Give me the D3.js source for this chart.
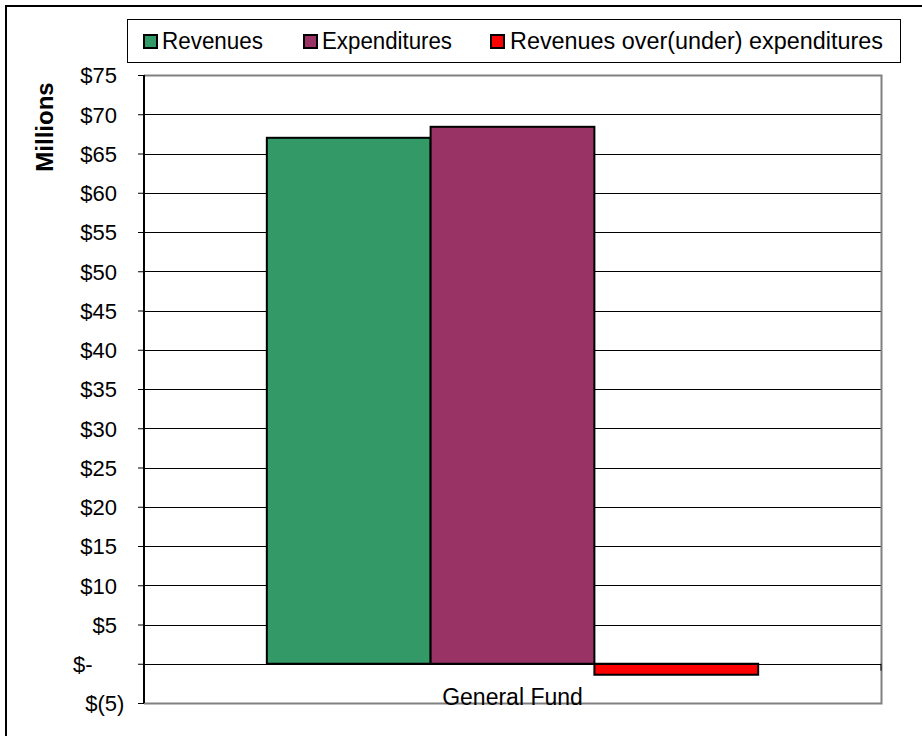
<html>
<head>
<script src="https://cdn.jsdelivr.net/npm/d3@7"></script>
<style>
body { margin: 0; background: #fff; }
text { font-family: "Liberation Sans", Arial, sans-serif; }
</style>
</head>
<body>
<svg id="chart" width="922" height="736"></svg>
<script>
// chart data
const categories = ["General Fund"];
const seriesNames = ["Revenues", "Expenditures", "Revenues over(under) expenditures"];
const seriesValues = [67.0, 68.4, -1.4];
const seriesColors = ["#339966", "#993366", "#ff0000"];
const tickValues = [-5, 0, 5, 10, 15, 20, 25, 30, 35, 40, 45, 50, 55, 60, 65, 70, 75];

const svg = d3.select("#chart");

const plotLeft = 144, plotRight = 881, plotTop = 75, plotBottom = 703;

// outer frame (runs off the right and bottom edge)
svg.append("rect")
  .attr("x", 6).attr("y", 6)
  .attr("width", 940).attr("height", 760)
  .attr("fill", "none").attr("stroke", "#000").attr("stroke-width", 2);

const y = d3.scaleLinear().domain([-5, 75]).range([plotBottom, plotTop]);

const x0 = d3.scaleBand()
  .domain(categories)
  .range([plotLeft, plotRight])
  .paddingInner(0)
  .paddingOuter(0.25);

const x1 = d3.scaleBand()
  .domain(seriesNames)
  .range([0, x0.bandwidth()]);

// gridlines
svg.append("g")
  .selectAll("line")
  .data(tickValues.filter(d => d > -5 && d < 75))
  .enter().append("line")
  .attr("x1", plotLeft).attr("x2", plotRight)
  .attr("y1", d => Math.round(y(d)) + 0.5)
  .attr("y2", d => Math.round(y(d)) + 0.5)
  .attr("stroke", "#000").attr("stroke-width", 1);

// plot border (grey)
svg.append("path")
  .attr("d", "M" + plotLeft + "," + (plotTop + 0.5) + "H" + (plotRight + 0.5) + "V" + (plotBottom + 0.5) + "H" + plotLeft)
  .attr("fill", "none").attr("stroke", "#808080").attr("stroke-width", 2);

// bars
const group = svg.append("g")
  .selectAll("g")
  .data(categories)
  .enter().append("g")
  .attr("transform", d => "translate(" + x0(d) + ",0)");

group.selectAll("rect")
  .data(seriesNames.map((s, i) => ({ name: s, value: seriesValues[i], color: seriesColors[i] })))
  .enter().append("rect")
  .attr("x", d => x1(d.name))
  .attr("y", d => y(Math.max(0, d.value)))
  .attr("width", x1.bandwidth())
  .attr("height", d => Math.abs(y(d.value) - y(0)))
  .attr("fill", d => d.color)
  .attr("stroke", "#000").attr("stroke-width", 2);

// category axis at zero
svg.append("line")
  .attr("x1", plotLeft).attr("x2", plotRight)
  .attr("y1", Math.round(y(0)) + 0.5).attr("y2", Math.round(y(0)) + 0.5)
  .attr("stroke", "#000").attr("stroke-width", 1);
svg.append("line")
  .attr("x1", plotRight).attr("x2", plotRight)
  .attr("y1", y(0)).attr("y2", y(0) + 7)
  .attr("stroke", "#000").attr("stroke-width", 1);

svg.append("text")
  .attr("x", x0(categories[0]) + x0.bandwidth() / 2)
  .attr("y", 705)
  .attr("text-anchor", "middle")
  .attr("font-size", 23)
  .text(categories[0]);

// value axis, accounting style labels
const digitW = 0.556 * 22, parenW = 0.333 * 22;
const yAxis = d3.axisLeft(y)
  .tickValues(tickValues)
  .tickSize(6)
  .tickPadding(0)
  .tickFormat(d => d < 0 ? "$(" + (-d) + ")" : d === 0 ? "$-" : "$" + d);

const ax = svg.append("g")
  .attr("transform", "translate(" + plotLeft + ",0)")
  .call(yAxis);
ax.select(".domain").attr("stroke", "#000").attr("stroke-width", 2).attr("d", "M0," + plotTop + "V" + plotBottom);
ax.selectAll(".tick line").attr("stroke", "#000");
ax.selectAll(".tick text")
  .attr("font-family", "'Liberation Sans', Arial, sans-serif")
  .attr("font-size", 22)
  .attr("fill", "#000")
  .attr("dy", "0.36em")
  .attr("x", d => -27 + (d < 0 ? parenW : d === 0 ? -2 * digitW : 0));

svg.append("text")
  .attr("transform", "translate(53,127) rotate(-90)")
  .attr("text-anchor", "middle")
  .attr("font-size", 24)
  .attr("font-weight", "bold")
  .text("Millions");

// legend
svg.append("rect")
  .attr("x", 127.5).attr("y", 19.5)
  .attr("width", 773).attr("height", 43)
  .attr("fill", "#fff").attr("stroke", "#000").attr("stroke-width", 1);

const legendX = [144, 304, 491];
const legendTextW = [101, 130, 373];
const legend = svg.selectAll(".legend")
  .data(seriesNames)
  .enter().append("g")
  .attr("class", "legend")
  .attr("transform", (d, i) => "translate(" + legendX[i] + ",0)");

legend.append("rect")
  .attr("x", 0).attr("y", 35)
  .attr("width", 13).attr("height", 13)
  .attr("fill", (d, i) => seriesColors[i])
  .attr("stroke", "#000").attr("stroke-width", 2);

legend.append("text")
  .attr("x", (d, i) => i === 2 ? 19 : 18)
  .attr("y", 49)
  .attr("font-size", 23)
  .attr("textLength", (d, i) => legendTextW[i])
  .attr("lengthAdjust", "spacingAndGlyphs")
  .text(d => d);
</script>
</body>
</html>
